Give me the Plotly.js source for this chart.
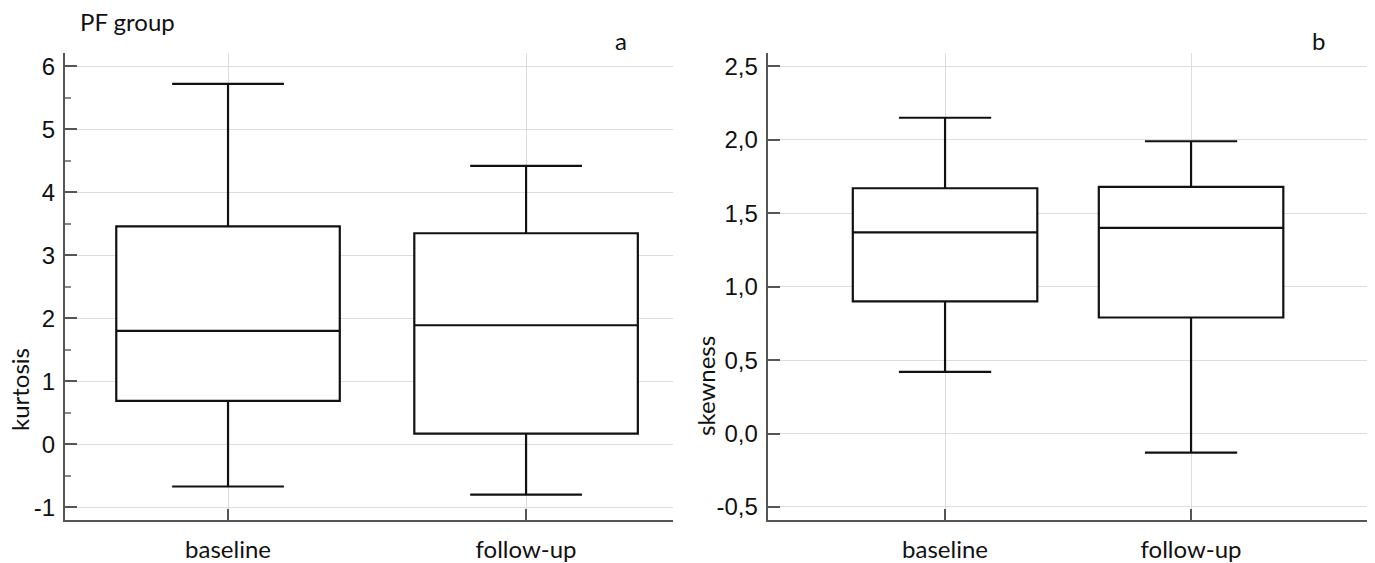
<!DOCTYPE html>
<html><head><meta charset="utf-8">
<script src="https://cdn.plot.ly/plotly-3.0.1.min.js"></script>
<style>html,body{margin:0;padding:0;background:#fff}#chart{width:1375px;height:563px}</style>
</head><body><div id="chart"></div>
<script>
// ---- data ----
const categories = ['baseline', 'follow-up'];

const kurtQ1 = [0.69, 0.17];
const kurtMedian = [1.80, 1.89];
const kurtQ3 = [3.46, 3.35];
const kurtLower = [-0.67, -0.80];
const kurtUpper = [5.72, 4.42];

const skewQ1 = [0.90, 0.79];
const skewMedian = [1.37, 1.40];
const skewQ3 = [1.67, 1.68];
const skewLower = [0.42, -0.13];
const skewUpper = [2.15, 1.99];

const kurtTickVals = [-1, 0, 1, 2, 3, 4, 5, 6];
const kurtTickText = ['-1', '0', '1', '2', '3', '4', '5', '6'];
const kurtMinorVals = [-0.5, 0.5, 1.5, 2.5, 3.5, 4.5, 5.5];
const skewTickVals = [-0.5, 0, 0.5, 1, 1.5, 2, 2.5];
const skewTickText = ['-0,5', '0,0', '0,5', '1,0', '1,5', '2,0', '2,5'];

// ---- layout helpers ----
const W = 1375, H = 563;
const px = v => v / W;
const py = v => 1 - v / H;

const boxStyle = {
  type: 'box', boxpoints: false, width: 0.75, whiskerwidth: 0.5,
  line: {color: '#111', width: 2.2}, fillcolor: '#ffffff',
  hoverinfo: 'skip', showlegend: false
};

const traces = [
  Object.assign({}, boxStyle, {
    x: categories, q1: kurtQ1, median: kurtMedian, q3: kurtQ3,
    lowerfence: kurtLower, upperfence: kurtUpper, xaxis: 'x', yaxis: 'y'
  }),
  Object.assign({}, boxStyle, {
    x: categories, q1: skewQ1, median: skewMedian, q3: skewQ3,
    lowerfence: skewLower, upperfence: skewUpper, xaxis: 'x2', yaxis: 'y2'
  })
];

const axisCommon = {
  showline: true, linecolor: '#555', linewidth: 2,
  ticks: 'inside', tickwidth: 2, tickcolor: '#555',
  showgrid: true, gridcolor: '#dedede', gridwidth: 1,
  zeroline: false, fixedrange: true
};
const textFont = {family: 'Lato, sans-serif', size: 24, color: '#111'};
const xTickFont = {family: 'Lato, sans-serif', size: 24, color: '#111'};
const yTickFont = {family: 'Liberation Sans, Arial, sans-serif', size: 24, color: '#111'};
const yDomain = [py(520), py(52.7)];

const layout = {
  width: W, height: H,
  margin: {l: 0, r: 0, t: 0, b: 0},
  paper_bgcolor: '#fff', plot_bgcolor: '#fff',
  showlegend: false,
  xaxis: Object.assign({}, axisCommon, {
    domain: [px(65), px(673)], anchor: 'y', type: 'category',
    range: [-0.547, 1.493], ticklen: 11, tickfont: xTickFont, ticklabelstandoff: 7
  }),
  yaxis: Object.assign({}, axisCommon, {
    domain: yDomain, anchor: 'x', range: [-1.2016, 6.216],
    tickmode: 'array', tickvals: kurtTickVals, ticktext: kurtTickText,
    ticklen: 12, tickfont: yTickFont, ticklabelstandoff: 3,
    minor: {tickmode: 'array', tickvals: kurtMinorVals, ticks: 'inside',
            ticklen: 6, tickwidth: 1.5, tickcolor: '#888', showgrid: false}
  }),
  xaxis2: Object.assign({}, axisCommon, {
    domain: [px(767.7), px(1366.7)], anchor: 'y2', type: 'category',
    range: [-0.721, 1.714], ticklen: 11, tickfont: xTickFont, ticklabelstandoff: 7
  }),
  yaxis2: Object.assign({}, axisCommon, {
    domain: yDomain, anchor: 'x2', range: [-0.5886, 2.593],
    tickmode: 'array', tickvals: skewTickVals, ticktext: skewTickText,
    ticklen: 12, tickfont: yTickFont, ticklabelstandoff: 3
  }),
  annotations: [
    {text: 'PF group', xref: 'paper', yref: 'paper', x: px(78), y: py(22),
     xanchor: 'left', yanchor: 'middle', showarrow: false, font: textFont},
    {text: 'a', xref: 'paper', yref: 'paper', x: px(621), y: py(40),
     xanchor: 'center', yanchor: 'middle', showarrow: false, font: textFont},
    {text: 'b', xref: 'paper', yref: 'paper', x: px(1318), y: py(41),
     xanchor: 'center', yanchor: 'middle', showarrow: false, font: textFont},
    {text: 'kurtosis', xref: 'paper', yref: 'paper', x: px(19), y: py(390),
     xanchor: 'center', yanchor: 'middle', textangle: -90, showarrow: false, font: textFont},
    {text: 'skewness', xref: 'paper', yref: 'paper', x: px(705), y: py(386),
     xanchor: 'center', yanchor: 'middle', textangle: -90, showarrow: false, font: textFont}
  ]
};

Plotly.newPlot('chart', traces, layout, {displayModeBar: false, staticPlot: true});
</script>
</body></html>
